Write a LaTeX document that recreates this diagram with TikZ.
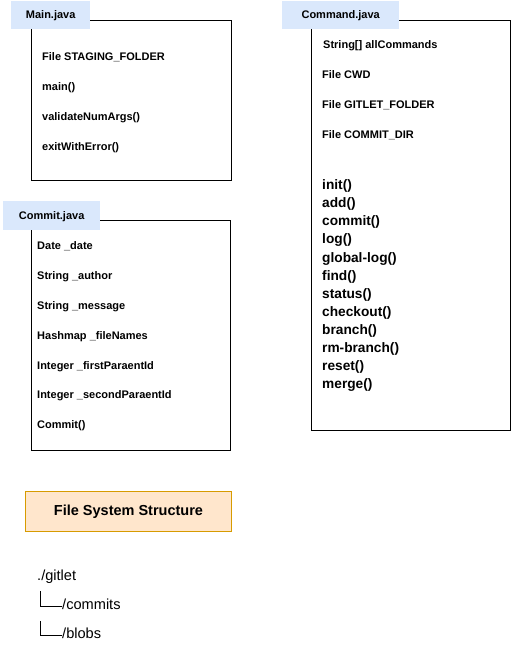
\documentclass[tikz,border=0pt]{standalone}
\usepackage{fontspec}
\setmainfont{Liberation Sans}
\definecolor{lblue}{HTML}{DAE8FC}
\definecolor{lorange}{HTML}{FFE6CC}
\definecolor{dorange}{HTML}{D79B00}
\begin{document}
\begin{tikzpicture}[x=1pt,y=-1pt,
  classbox/.style={draw=black, line width=1pt, anchor=north west, inner sep=0pt},
  tag/.style={fill=lblue, anchor=north west, inner sep=0pt, font=\bfseries\fontsize{11}{13}\selectfont, text height=0.72em, text depth=0pt},
  member/.style={anchor=west, inner sep=0pt, font=\bfseries\fontsize{11}{13}\selectfont, text height=0.72em, text depth=0pt},
  method/.style={anchor=west, inner sep=0pt, font=\bfseries\fontsize{13.7}{16}\selectfont, text height=0.72em, text depth=0pt},
  plain/.style={anchor=west, inner sep=0pt, font=\fontsize{14.6}{17}\selectfont, text height=0.72em, text depth=0pt},
  tree/.style={draw=black, line width=0.8pt}
]
\useasboundingbox (0,0) rectangle (511,661);

% Main.java
\node[classbox, minimum width=200, minimum height=160] (mainbox) at (31,20) {};
\node[tag, minimum width=79, minimum height=28] (maintag) at (11,1) {Main.java};
\node[member] (m1) at (42,56.5) {File STAGING\_FOLDER};
\node[member] (m2) at (42,87) {main()};
\node[member] (m3) at (42,117) {validateNumArgs()};
\node[member] (m4) at (42,147) {exitWithError()};

% Commit.java
\node[classbox, minimum width=199, minimum height=230] (commitbox) at (31,220) {};
\node[tag, minimum width=97, minimum height=29] (committag) at (3,201) {Commit.java};
\node[member] (c1) at (37,246) {Date \_date};
\node[member] (c2) at (37,276) {String \_author};
\node[member] (c3) at (37,306) {String \_message};
\node[member] (c4) at (37,336) {Hashmap \_fileNames};
\node[member] (c5) at (37,366) {Integer \_firstParaentId};
\node[member] (c6) at (37,395) {Integer \_secondParaentId};
\node[member] (c7) at (37,425) {Commit()};

% Command.java
\node[classbox, minimum width=199, minimum height=410] (cmdbox) at (311,20) {};
\node[tag, minimum width=117, minimum height=28] (cmdtag) at (282,1) {Command.java};
\node[member] (f1) at (323,45) {String[] allCommands};
\node[member] (f2) at (322,75) {File CWD};
\node[member] (f3) at (322,105) {File GITLET\_FOLDER};
\node[member] (f4) at (322,135) {File COMMIT\_DIR};
\node[method] (k1) at (322,186) {init()};
\node[method] (k2) at (322,204.1) {add()};
\node[method] (k3) at (322,222.2) {commit()};
\node[method] (k4) at (322,240.3) {log()};
\node[method] (k5) at (322,258.4) {global-log()};
\node[method] (k6) at (322,276.5) {find()};
\node[method] (k7) at (322,294.6) {status()};
\node[method] (k8) at (322,312.7) {checkout()};
\node[method] (k9) at (322,330.8) {branch()};
\node[method] (k10) at (322,348.9) {rm-branch()};
\node[method] (k11) at (322,367) {reset()};
\node[method] (k12) at (322,385.1) {merge()};

% File System Structure
\node[draw=dorange, fill=lorange, line width=1pt, anchor=north west, minimum width=206, minimum height=40, inner sep=0pt,
      font=\bfseries\fontsize{14.5}{17}\selectfont] (fss) at (25,491) {File System Structure};
\node[plain] (gitlet) at (37,577) {./gitlet};
\node[plain] (commits) at (62,606) {/commits};
\node[plain] (blobs) at (62,635) {/blobs};
\coordinate (t1) at (40,591);
\coordinate (t2) at (40,621);
\draw[tree] (t1) |- (commits.west);
\draw[tree] (t2) |- (blobs.west);
\end{tikzpicture}
\end{document}
